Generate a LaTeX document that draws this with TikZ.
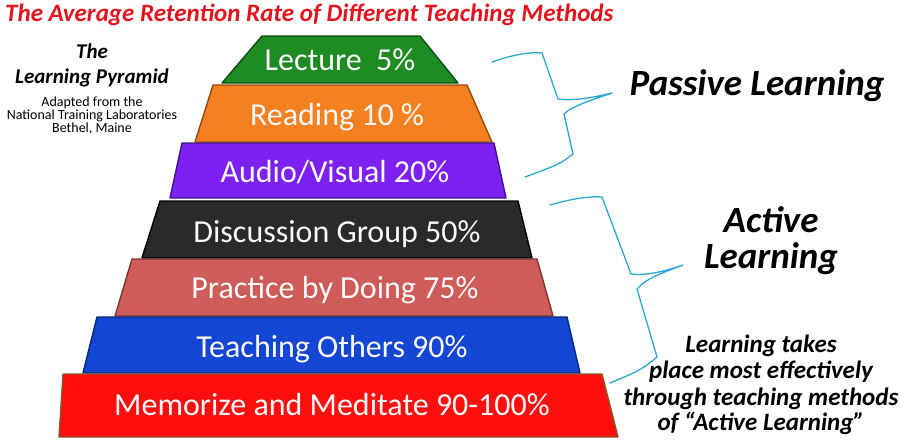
\documentclass[tikz,border=0pt]{standalone}
\usepackage{fontspec}
\setmainfont{Carlito}
\definecolor{cgreen}{HTML}{1E8C22}
\definecolor{corange}{HTML}{F4801F}
\definecolor{cpurple}{HTML}{7D20F2}
\definecolor{cblack}{HTML}{2A2A2A}
\definecolor{csalmon}{HTML}{CE5C58}
\definecolor{cblue}{HTML}{1446D4}
\definecolor{cred}{HTML}{FF0E0E}
\definecolor{ctitle}{HTML}{E3141C}
\definecolor{cbrace}{HTML}{2AA6D6}
\tikzset{
  block/.style={line width=1.4pt, line join=round},
  lbl/.style={anchor=base, text=white!95!gray, font=\fontsize{32}{36}\selectfont, inner sep=0pt},
  bigit/.style={anchor=base, font=\fontsize{37}{42}\selectfont\bfseries\itshape, inner sep=0pt},
  note/.style={anchor=base, inner sep=0pt, font=\fontsize{25}{28}\selectfont\bfseries\itshape},
  brace/.style={draw=cbrace, line width=1.3pt, line join=round, line cap=round},
}
\begin{document}
\begin{tikzpicture}[x=1pt,y=-1pt]
\useasboundingbox (0,0) rectangle (904,445);
% blocks
\draw[block, fill=cgreen, draw=cgreen!55!black] (262,36) -- (420,36) -- (458,83) -- (222,83) -- cycle;
\draw[block, fill=corange, draw=corange!60!black] (213,85) -- (467,85) -- (492,142) -- (195,142) -- cycle;
\draw[block, fill=cpurple, draw=cpurple!55!black] (182,143) -- (494,143) -- (506,198) -- (170,198) -- cycle;
\draw[block, fill=cblack, draw=black] (160,201) -- (518,201) -- (532,258) -- (142,258) -- cycle;
\draw[block, fill=csalmon, draw=csalmon!60!black] (132,259) -- (537,259) -- (553,316) -- (115,316) -- cycle;
\draw[block, fill=cblue, draw=cblue!55!black] (97,317) -- (567,317) -- (580,373) -- (83,373) -- cycle;
\draw[block, fill=cred, draw=brown!70!black] (63,374) -- (602,374) -- (618,437) -- (59,437) -- cycle;
% block labels
\node[lbl] (lecture) at (340,70) {Lecture\ \ 5\%};
\node[lbl] (reading) at (337,125) {Reading 10 \%};
\node[lbl] (audio) at (335,182) {Audio/Visual 20\%};
\node[lbl] (discussion) at (337,242) {Discussion Group 50\%};
\node[lbl] (practice) at (335,298) {Practice by Doing 75\%};
\node[lbl] (teaching) at (332,357) {Teaching Others 90\%};
\node[lbl] (memorize) at (332,415) {Memorize and Meditate 90-100\%};
% title
\node[anchor=base west, inner sep=0pt, text=ctitle, font=\fontsize{25}{28}\selectfont\bfseries\itshape] (title) at (5,21) {The Average Retention Rate of Different Teaching Methods};
% left note
\node[anchor=base, inner sep=0pt, font=\fontsize{21}{24}\selectfont\bfseries\itshape] (the) at (92,58) {The};
\node[anchor=base, inner sep=0pt, font=\fontsize{21}{24}\selectfont\bfseries\itshape] (lp) at (92,83) {Learning Pyramid};
\node[anchor=base, inner sep=0pt, font=\fontsize{14}{16}\selectfont] (ad1) at (92,106) {Adapted from the};
\node[anchor=base, inner sep=0pt, font=\fontsize{14}{16}\selectfont] (ad2) at (92,119) {National Training Laboratories};
\node[anchor=base, inner sep=0pt, font=\fontsize{14}{16}\selectfont] (ad3) at (92,132) {Bethel, Maine};
% right labels
\node[bigit] (passive) at (757,95) {Passive Learning};
\node[bigit] (active1) at (771,232) {Active};
\node[bigit] (active2) at (771,268) {Learning};
\node[note] (n1) at (761,352) {Learning takes};
\node[note] (n2) at (761,378) {place most effectively};
\node[note] (n3) at (761,405) {through teaching methods};
\node[note] (n4) at (761,430) {of “Active Learning”};
% braces
\draw[brace] (492,62) .. controls (515,54) and (530,52) .. (542,53) -- (558,99)
  .. controls (572,101) and (592,98) .. (612,93)
  .. controls (592,100) and (572,106) .. (564,114) -- (573,154)
  .. controls (560,164) .. (525,177);
\draw[brace] (550,205) .. controls (570,199) and (590,196) .. (602,197) -- (631,274)
  .. controls (646,276) and (666,271) .. (683,265)
  .. controls (665,272) and (646,278) .. (637,289) -- (657,357)
  .. controls (641,370) .. (610,383);
\end{tikzpicture}
\end{document}
